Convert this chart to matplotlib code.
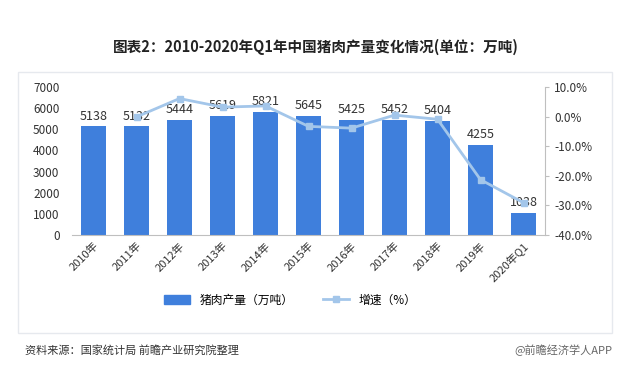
import matplotlib.pyplot as plt
from matplotlib.patches import Rectangle
from matplotlib.ticker import FuncFormatter
from matplotlib.lines import Line2D
from matplotlib.patches import Patch

plt.rcParams['font.family'] = ['Noto Sans CJK SC', 'DejaVu Sans']

years = ['2010年', '2011年', '2012年', '2013年', '2014年', '2015年', '2016年',
         '2017年', '2018年', '2019年', '2020年Q1']
output = [5138, 5132, 5444, 5619, 5821, 5645, 5425, 5452, 5404, 4255, 1038]
# growth rate (%), no value for 2010
growth = [None, -0.1, 6.1, 3.2, 3.6, -3.3, -3.9, 0.5, -0.9, -21.3, -29.1]

bar_color = '#3f7fdc'
line_color = '#a3c6ea'

fig = plt.figure(figsize=(6.32, 3.86), dpi=100)
fig.patch.set_facecolor('white')

# light frame around the chart
fig.patches.append(Rectangle((18 / 632, 1 - 333 / 386), 594 / 632, 261 / 386,
                             transform=fig.transFigure, fill=False,
                             edgecolor='#e6e9ee', lw=1.0))

fig.text(0.5, 1 - 47 / 386, '图表2：2010-2020年Q1年中国猪肉产量变化情况(单位：万吨)',
         ha='center', va='center', fontsize=10.5, fontweight='bold', color='#222222')

ax = fig.add_axes([72 / 632, 1 - 235 / 386, 473 / 632, 148 / 386])
x = list(range(len(years)))
ax.bar(x, output, width=0.56, color=bar_color, zorder=2)
for xi, v in zip(x, output):
    ax.text(xi, v + 180, str(v), ha='center', va='bottom', fontsize=9, color='#333333')

ax.set_xlim(-0.5, len(years) - 0.5)
ax.set_ylim(0, 7000)
ax.set_yticks(range(0, 7001, 1000))
ax.set_xticks(x)
ax.set_xticklabels(years, rotation=45, ha='right', rotation_mode='anchor', fontsize=8, color='#333333')
ax.tick_params(axis='y', length=0, labelsize=8.5, colors='#333333', pad=9)
ax.tick_params(axis='x', length=0, pad=4)
for s in ['top', 'right', 'left']:
    ax.spines[s].set_visible(False)
ax.spines['bottom'].set_color('#bfbfbf')

ax2 = ax.twinx()
gx = [xi for xi, g in zip(x, growth) if g is not None]
gy = [g for g in growth if g is not None]
ax2.plot(gx, gy, color=line_color, lw=2, marker='s', markersize=4.5, zorder=3)
ax2.set_ylim(-40, 10)
ax2.set_yticks(range(-40, 11, 10))
ax2.yaxis.set_major_formatter(FuncFormatter(lambda v, p: f'{v:.1f}%'))
ax2.tick_params(axis='y', length=3, color='#bfbfbf', labelsize=8.5, labelcolor='#333333')
for s in ['top', 'left', 'bottom']:
    ax2.spines[s].set_visible(False)
ax2.spines['right'].set_color('#bfbfbf')

handles = [Patch(color=bar_color),
           Line2D([0], [0], color=line_color, lw=2, marker='s', markersize=4.5)]
fig.legend(handles, ['猪肉产量（万吨）', '增速（%）'], loc='center',
           bbox_to_anchor=(290 / 632, 1 - 300 / 386), ncol=2, frameon=False,
           fontsize=8.5, handlelength=2.2, columnspacing=2.5)

fig.text(25 / 632, 1 - 350 / 386, '资料来源：国家统计局 前瞻产业研究院整理',
         ha='left', va='center', fontsize=8, color='#333333')
fig.text(612 / 632, 1 - 350 / 386, '@前瞻经济学人APP',
         ha='right', va='center', fontsize=8, color='#666666')

fig.savefig('out.png', dpi=100)
